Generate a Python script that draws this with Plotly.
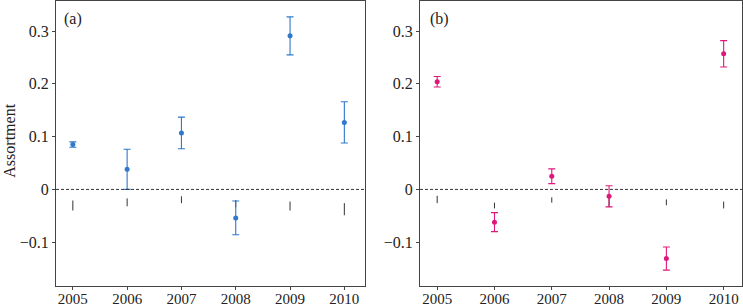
import plotly.graph_objects as go

years = [2005, 2006, 2007, 2008, 2009, 2010]

# Panel (a)
a_vals = [0.085, 0.038, 0.107, -0.054, 0.291, 0.127]
a_err = [0.005, 0.038, 0.030, 0.032, 0.036, 0.039]
a_null_lo = [-0.040, -0.032, -0.026, -0.034, -0.040, -0.049]
a_null_hi = [-0.021, -0.017, -0.013, -0.020, -0.023, -0.026]

# Panel (b)
b_vals = [0.204, -0.062, 0.025, -0.013, -0.131, 0.257]
b_err = [0.010, 0.018, 0.014, 0.020, 0.022, 0.025]
b_null_lo = [-0.026, -0.036, -0.025, -0.033, -0.030, -0.036]
b_null_hi = [-0.012, -0.025, -0.015, -0.016, -0.019, -0.023]

BLUE = "#2f78cc"
PINK = "#e0177a"
FONT = "Liberation Serif"

fig = go.Figure()

def add_panel(vals, err, lo, hi, color, xa, ya):
    mid = [(l + h) / 2 for l, h in zip(lo, hi)]
    half = [(h - l) / 2 for l, h in zip(lo, hi)]
    fig.add_trace(go.Scatter(
        x=years, y=mid, mode="markers", xaxis=xa, yaxis=ya,
        marker=dict(size=0.1, color="#333333", opacity=0),
        error_y=dict(type="data", array=half, visible=True, width=0,
                     thickness=1, color="#333333"),
        showlegend=False, hoverinfo="skip"))
    fig.add_trace(go.Scatter(
        x=years, y=vals, mode="markers", xaxis=xa, yaxis=ya,
        marker=dict(size=5, color=color),
        error_y=dict(type="data", array=err, visible=True, width=3.5,
                     thickness=1.1, color=color),
        showlegend=False))

add_panel(a_vals, a_err, a_null_lo, a_null_hi, BLUE, "x", "y")
add_panel(b_vals, b_err, b_null_lo, b_null_hi, PINK, "x2", "y2")

axis_common = dict(showline=True, linecolor="#444444", linewidth=1, mirror=True,
                   ticks="outside", ticklen=3, tickcolor="#444444",
                   showgrid=False, zeroline=False, automargin=False,
                   tickfont=dict(family=FONT, size=16, color="#222222"))

yr = [-0.183, 0.357]
fig.update_layout(
    width=743, height=307,
    margin=dict(l=56, r=1, t=1, b=21),
    plot_bgcolor="white", paper_bgcolor="white",
    xaxis=dict(domain=[0, 0.4504], range=[2004.69, 2010.38], tickvals=years,
               anchor="y", **axis_common),
    yaxis=dict(domain=[0, 1], range=yr, dtick=0.1, tick0=0, anchor="x",
               **axis_common),
    xaxis2=dict(domain=[0.5306, 1], range=[2004.70, 2010.32], tickvals=years,
                anchor="y2", **axis_common),
    yaxis2=dict(domain=[0, 1], range=yr, dtick=0.1, tick0=0, anchor="x2",
                **axis_common),
    shapes=[
        dict(type="line", xref="x domain", yref="y", x0=0, x1=1, y0=0, y1=0,
             line=dict(color="#333333", width=1, dash="3px,2px")),
        dict(type="line", xref="x2 domain", yref="y2", x0=0, x1=1, y0=0, y1=0,
             line=dict(color="#333333", width=1, dash="3px,2px")),
    ],
    annotations=[
        dict(text="(a)", xref="x domain", yref="y domain", x=0.02, y=0.975,
             xanchor="left", yanchor="top", showarrow=False,
             font=dict(family=FONT, size=16, color="#222222")),
        dict(text="(b)", xref="x2 domain", yref="y2 domain", x=0.025, y=0.975,
             xanchor="left", yanchor="top", showarrow=False,
             font=dict(family=FONT, size=16, color="#222222")),
        dict(text="Assortment", xref="paper", yref="paper", x=-0.067, y=0.51,
             xanchor="center", yanchor="middle", textangle=-90, showarrow=False,
             font=dict(family=FONT, size=16, color="#222222")),
    ],
)
fig.update_xaxes(tickfont=dict(size=15), ticklen=3, ticklabelstandoff=-4)

fig.write_html("out.html",
               config={"displayModeBar": False},
               post_script="document.body.style.margin='0';"
                           "document.body.style.overflow='hidden';")
